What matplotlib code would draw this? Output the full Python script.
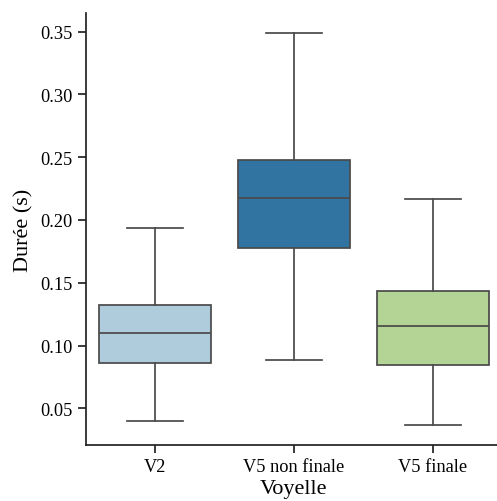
import matplotlib
matplotlib.use("Agg")
import matplotlib.pyplot as plt
import seaborn as sns

categories = ["V2", "V5 non finale", "V5 finale"]
whislo = [0.0396, 0.0883, 0.0364]
q1 = [0.0859, 0.1777, 0.0843]
med = [0.1098, 0.2176, 0.1154]
q3 = [0.1322, 0.2479, 0.1433]
whishi = [0.1936, 0.3492, 0.2168]

colors = [sns.desaturate(c, 0.75) for c in ["#a6cee3", "#1f78b4", "#b2df8a"]]

plt.rcParams['font.family'] = ['Liberation Serif', 'DejaVu Serif']

fig = plt.figure(figsize=(4.97, 5.02), dpi=100)
ax = fig.add_axes([85.5/497, 56/502, (502.5-85.5)/497, (446-14)/502])

stats = []
for i, c in enumerate(categories):
    stats.append(dict(label=c, whislo=whislo[i], q1=q1[i], med=med[i], q3=q3[i], whishi=whishi[i], fliers=[]))

lc = "#4a4a4a"
lw = 1.25
bp = ax.bxp(stats, positions=range(len(categories)), widths=0.8, patch_artist=True,
            showfliers=False,
            boxprops=dict(edgecolor=lc, linewidth=lw),
            medianprops=dict(color=lc, linewidth=lw),
            whiskerprops=dict(color=lc, linewidth=lw),
            capprops=dict(color=lc, linewidth=lw),
            capwidths=0.4)
for patch, col in zip(bp['boxes'], colors):
    patch.set_facecolor(col)

ax.set_xlim(-0.5, 2.5)
ax.set_ylim(0.0208, 0.3648)
ax.set_yticks([0.05, 0.10, 0.15, 0.20, 0.25, 0.30, 0.35])
ax.set_yticklabels(["0.05", "0.10", "0.15", "0.20", "0.25", "0.30", "0.35"])
ax.tick_params(labelsize=13.2, length=6, width=1.25, color="#222222")
ax.set_xlabel("Voyelle", fontsize=16, labelpad=3)
ax.set_ylabel("Durée (s)", fontsize=16, labelpad=5)
for s in ["top", "right"]:
    ax.spines[s].set_visible(False)
for s in ["left", "bottom"]:
    ax.spines[s].set_linewidth(1.25)
    ax.spines[s].set_color("#222222")

fig.savefig("out.png", dpi=100)
